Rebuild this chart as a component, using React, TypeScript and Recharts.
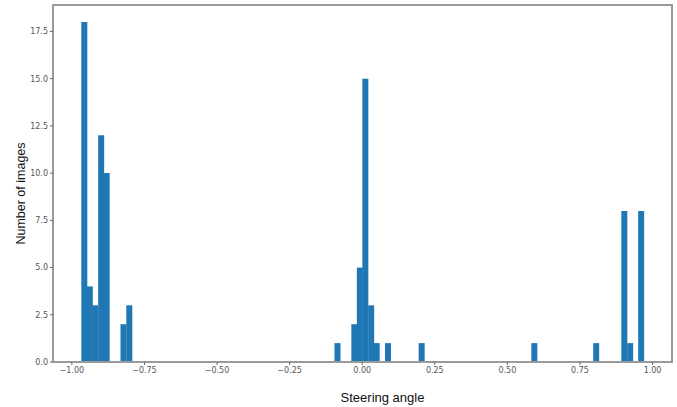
import React from "react";
import { ComposedChart, Bar, XAxis, YAxis, Label, ReferenceArea } from "recharts";

// Histogram bin centers (steering angle) and counts for non-empty bins
const binCenters = [
  -0.958, -0.939, -0.92, -0.9, -0.881, -0.823, -0.803,
  -0.086, -0.028, -0.009, 0.01, 0.03, 0.049, 0.088, 0.204,
  0.592, 0.805, 0.902, 0.922, 0.96,
];
const counts = [
  18, 4, 3, 12, 10, 2, 3,
  1, 2, 5, 15, 3, 1, 1, 1,
  1, 1, 8, 1, 8,
];
const xTicks = [-1, -0.75, -0.5, -0.25, 0, 0.25, 0.5, 0.75, 1];
const yTicks = [0, 2.5, 5, 7.5, 10, 12.5, 15, 17.5];
const xDomain: [number, number] = [-1.065, 1.067];
const yDomain: [number, number] = [0, 18.9];

const data = binCenters.map((x, i) => ({ x, count: counts[i] }));

const fmtX = (v: number) => {
  const s = Math.abs(v).toFixed(2);
  return v < 0 ? "\u2212" + s : s;
};

const tickStyle = { fontSize: 8, fill: "#555", fontFamily: "DejaVu Sans" };
const frame = "#9a9a9a";

const YLabel = (props: any) => {
  const vb = props.viewBox || {};
  const cx = vb.x + 21;
  const cy = vb.y + vb.height / 2 + 10;
  return (
    <text
      x={cx}
      y={cy}
      transform={`rotate(-90, ${cx}, ${cy})`}
      textAnchor="middle"
      dominantBaseline="central"
      style={{ fontSize: 12.5, fill: "#111", fontFamily: "Liberation Sans" }}
    >
      Number of images
    </text>
  );
};

export default function App() {
  return (
    <div style={{ position: "absolute", left: 0, top: 0, background: "#fff" }}>
      <ComposedChart
        width={677}
        height={407}
        data={data}
        margin={{ top: 5, right: 5, left: 0, bottom: 0 }}
        barCategoryGap={0}
        barGap={0}
      >
        <XAxis
          dataKey="x"
          type="number"
          domain={xDomain}
          ticks={xTicks}
          tickFormatter={fmtX}
          allowDataOverflow
          height={45}
          stroke={frame}
          strokeWidth={2}
          tickSize={3}
          tick={tickStyle}
          tickLine={{ stroke: "#666", strokeWidth: 1 }}
        >
          <Label
            value="Steering angle"
            position="insideBottom"
            offset={5}
            dx={20}
            style={{ fontSize: 13, fill: "#111", fontFamily: "Liberation Sans" }}
          />
        </XAxis>
        <YAxis
          type="number"
          domain={yDomain}
          ticks={yTicks}
          tickFormatter={(v: number) => v.toFixed(1)}
          allowDataOverflow
          width={53}
          stroke={frame}
          strokeWidth={2}
          tickSize={3}
          tick={tickStyle}
          tickLine={{ stroke: "#666", strokeWidth: 1 }}
        >
          <Label content={YLabel} />
        </YAxis>
        <Bar dataKey="count" fill="#1f77b4" isAnimationActive={false} />
        <ReferenceArea
          x1={xDomain[0]}
          x2={xDomain[1]}
          y1={yDomain[0]}
          y2={yDomain[1]}
          fill="none"
          stroke={frame}
          strokeWidth={2}
          ifOverflow="visible"
        />
      </ComposedChart>
    </div>
  );
}
